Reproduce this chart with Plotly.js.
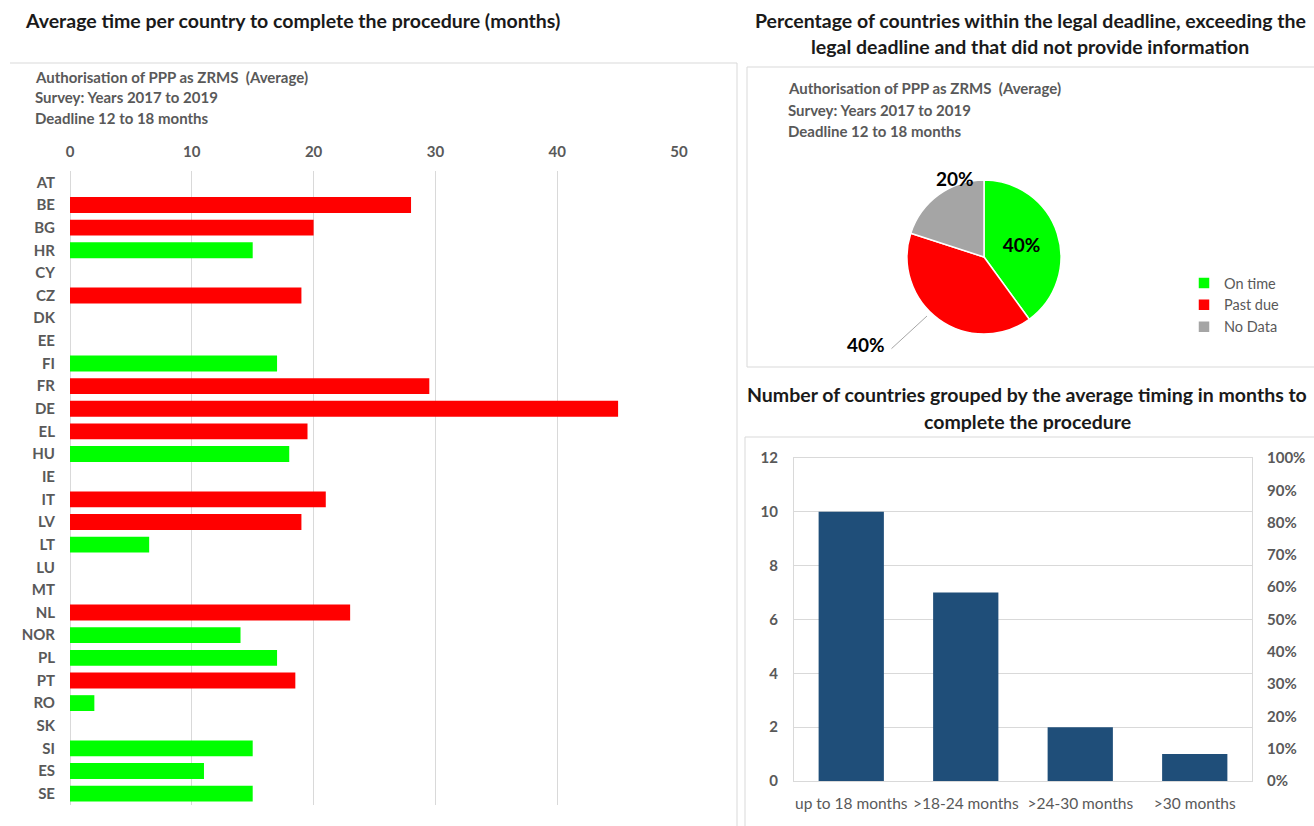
<!DOCTYPE html>
<html>
<head>
<meta charset="utf-8">
<script src="https://cdn.plot.ly/plotly-3.0.1.min.js"></script>
<style>
  html, body { margin: 0; padding: 0; background: #ffffff; }
  #chart { width: 1314px; height: 826px; }
</style>
</head>
<body>
<div id="chart"></div>
<script>
// Average months per country (null = no data provided)
const countries = ['AT','BE','BG','HR','CY','CZ','DK','EE','FI','FR','DE','EL','HU','IE',
                   'IT','LV','LT','LU','MT','NL','NOR','PL','PT','RO','SK','SI','ES','SE'];
const months    = [null, 28, 20, 15, null, 19, null, null, 17, 29.5, 45, 19.5, 18, null,
                   21, 19, 6.5, null, null, 23, 14, 17, 18.5, 2, null, 15, 11, 15];
const status    = ['none','late','late','ontime','none','late','none','none','ontime','late','late','late','ontime','none',
                   'late','late','ontime','none','none','late','ontime','ontime','late','ontime','none','ontime','ontime','ontime'];

// Share of countries by deadline compliance
const pieLabels = ['On time', 'Past due', 'No Data'];
const pieShares = [40, 40, 20];

// Countries grouped by average timing
const groupLabels = ['up to 18 months', '>18-24 months', '>24-30 months', '>30 months'];
const groupCounts = [10, 7, 2, 1];

const subtitleLines = ['Authorisation of PPP as ZRMS  (Average)', 'Survey: Years 2017 to 2019', 'Deadline 12 to 18 months'];

const FONT = 'Lato, "Open Sans", sans-serif';
const GREY_TEXT = '#595959';
const statusColor = { ontime: '#00ff00', late: '#ff0000', none: '#a5a5a5' };

const W = 1314, H = 826;
const px = v => v / W;
const py = v => 1 - v / H;

const traces = [
  {
    type: 'bar', orientation: 'h',
    y: countries, x: months,
    width: 0.7,
    marker: { color: status.map(s => statusColor[s]) },
    xaxis: 'x', yaxis: 'y',
    showlegend: false, hoverinfo: 'y+x'
  },
  {
    type: 'pie',
    labels: pieLabels, values: pieShares,
    sort: false, direction: 'clockwise', rotation: 0,
    marker: { colors: [statusColor.ontime, statusColor.late, statusColor.none], line: { color: '#ffffff', width: 1.5 } },
    texttemplate: ['%{value}%', '', ''],
    textposition: ['inside', 'none', 'none'],
    insidetextorientation: 'horizontal',
    textfont: { family: FONT, size: 19, color: '#000000', weight: 'bold' },
    domain: { x: [px(907), px(1061)], y: [py(334), py(180)] },
    showlegend: true, hoverinfo: 'label+percent'
  },
  {
    type: 'bar',
    x: groupLabels, y: groupCounts,
    width: 0.57,
    marker: { color: '#1f4e79' },
    xaxis: 'x2', yaxis: 'y2',
    showlegend: false, hoverinfo: 'x+y'
  },
  {
    // empty series that carries the secondary percentage axis
    type: 'scatter', mode: 'lines',
    x: [], y: [],
    xaxis: 'x2', yaxis: 'y3',
    showlegend: false, hoverinfo: 'skip'
  }
];

const annotations = [];
function txt(x, y, text, size, color, bold, xanchor) {
  annotations.push({
    xref: 'paper', yref: 'paper', x: px(x), y: py(y), text: text,
    showarrow: false, xanchor: xanchor || 'left', yanchor: 'middle',
    font: { family: FONT, size: size, color: color, weight: bold ? 'bold' : 'normal' }
  });
}

// Panel titles
const TITLE_SIZE = 19.5;
txt(23, 20, 'Average time per country to complete the procedure (months)', TITLE_SIZE, '#1a1a1a', true);
txt(1030, 20, 'Percentage of countries within the legal deadline, exceeding the', TITLE_SIZE, '#1a1a1a', true, 'center');
txt(1030, 46, 'legal deadline and that did not provide information', TITLE_SIZE, '#1a1a1a', true, 'center');
txt(1027, 394, 'Number of countries grouped by the average timing in months to', TITLE_SIZE, '#1a1a1a', true, 'center');
txt(1027, 421, 'complete the procedure', TITLE_SIZE, '#1a1a1a', true, 'center');

// Subtitles inside the two upper panels
subtitleLines.forEach((line, i) => {
  txt(33, 77 + i * 20.5, line, 15, GREY_TEXT, true);
  txt(786, 88 + i * 21.5, line, 15, GREY_TEXT, true);
});

// Outside pie labels
annotations.push({
  xref: 'paper', yref: 'paper', x: px(955), y: py(178),
  text: pieShares[2] + '%', showarrow: false, xanchor: 'center', yanchor: 'middle',
  font: { family: FONT, size: 19, color: '#000000', weight: 'bold' }
});
annotations.push({
  xref: 'paper', yref: 'paper', x: px(927), y: py(316),
  ax: px(866 + 24), ay: py(350), axref: 'paper', ayref: 'paper',
  text: '', showarrow: true, arrowhead: 0, arrowwidth: 1, arrowcolor: '#a6a6a6', standoff: 0, startstandoff: 0
});
annotations.push({
  xref: 'paper', yref: 'paper', x: px(866), y: py(344),
  text: pieShares[1] + '%', showarrow: false, xanchor: 'center', yanchor: 'middle',
  font: { family: FONT, size: 19, color: '#000000', weight: 'bold' }
});

const boxLine = { color: '#d9d9d9', width: 1 };
const shapes = [
  { type: 'line', xref: 'paper', yref: 'paper', x0: px(10), x1: px(737), y0: py(63), y1: py(63), line: boxLine },
  { type: 'line', xref: 'paper', yref: 'paper', x0: px(737), x1: px(737), y0: py(63), y1: py(830), line: boxLine },
  { type: 'rect', xref: 'paper', yref: 'paper', x0: px(747), x1: px(1320), y0: py(67), y1: py(367), line: boxLine },
  { type: 'rect', xref: 'paper', yref: 'paper', x0: px(745), x1: px(1320), y0: py(437), y1: py(830), line: boxLine }
];

const tickFontBold = { family: FONT, size: 15, color: GREY_TEXT, weight: 'bold' };

const layout = {
  width: W, height: H,
  margin: { l: 0, r: 0, t: 0, b: 0 },
  paper_bgcolor: '#ffffff', plot_bgcolor: 'rgba(0,0,0,0)',
  font: { family: FONT, color: GREY_TEXT },
  xaxis: {
    domain: [px(70), px(679)], anchor: 'y', side: 'top',
    range: [0, 50], dtick: 10, fixedrange: true,
    showgrid: true, gridcolor: '#d9d9d9', gridwidth: 1,
    zeroline: true, zerolinecolor: '#d9d9d9', showline: false,
    ticks: '', ticklabelstandoff: 10,
    tickfont: tickFontBold
  },
  yaxis: {
    domain: [py(805), py(171)], anchor: 'x',
    type: 'category', categoryorder: 'array', categoryarray: countries,
    range: [countries.length - 0.5, -0.5], fixedrange: true,
    showgrid: false, zeroline: false, showline: false,
    ticks: '', ticklabelstandoff: 14,
    tickfont: tickFontBold
  },
  xaxis2: {
    domain: [px(794), px(1252)], anchor: 'y2',
    type: 'category', fixedrange: true,
    showgrid: false, zeroline: false,
    showline: true, linecolor: '#d9d9d9', mirror: true,
    ticks: '', ticklabelstandoff: 8,
    tickfont: { family: FONT, size: 15.5, color: GREY_TEXT }
  },
  yaxis2: {
    domain: [py(781), py(458)], anchor: 'x2',
    range: [0, 12], dtick: 2, fixedrange: true,
    showgrid: true, gridcolor: '#d9d9d9',
    zeroline: false, showline: true, linecolor: '#d9d9d9', mirror: true,
    ticks: '', ticklabelstandoff: 12,
    tickfont: tickFontBold
  },
  yaxis3: {
    domain: [py(781), py(458)], anchor: 'x2', overlaying: 'y2', side: 'right',
    range: [0, 1], dtick: 0.1, tickformat: '.0%', fixedrange: true,
    showgrid: false, zeroline: false, showline: false,
    ticks: '', ticklabelstandoff: 14,
    tickfont: tickFontBold
  },
  legend: {
    x: px(1184), y: py(267), xanchor: 'left', yanchor: 'top',
    bgcolor: 'rgba(0,0,0,0)', borderwidth: 0,
    font: { family: FONT, size: 14.5, color: GREY_TEXT },
    itemwidth: 30, tracegroupgap: 0
  },
  shapes: shapes,
  annotations: annotations
};

Plotly.newPlot('chart', traces, layout, { displayModeBar: false, staticPlot: true });
</script>
</body>
</html>
